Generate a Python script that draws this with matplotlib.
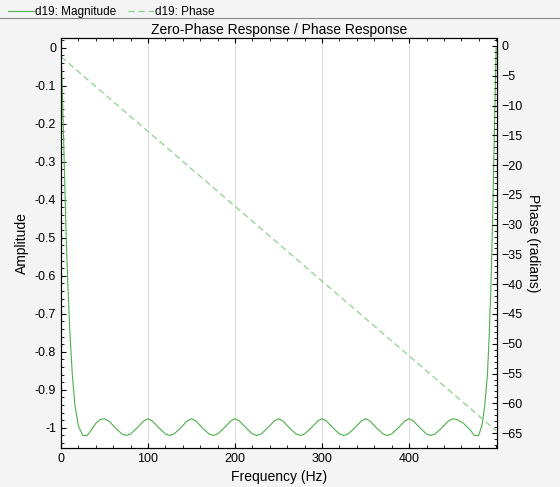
import matplotlib
matplotlib.use("Agg")
import matplotlib.pyplot as plt
from matplotlib.lines import Line2D

plt.rcParams['font.family'] = ['Liberation Sans', 'DejaVu Sans']

freq = [0, 2, 4, 6, 8, 10, 13, 16, 20, 25, 30, 35, 40, 45, 50, 55, 62.5, 70, 75, 80, 87.5,
        95, 100, 105, 112.5, 120, 125, 130, 137.5, 145, 150, 155, 162.5, 170, 175, 180, 187.5,
        195, 200, 205, 212.5, 220, 225, 230, 237.5, 245, 250, 255, 262.5, 270, 275, 280, 287.5,
        295, 300, 305, 312.5, 320, 325, 330, 337.5, 345, 350, 355, 362.5, 370, 375, 380, 387.5,
        395, 400, 405, 412.5, 420, 425, 430, 437.5, 445, 450, 455, 462.5, 470, 475, 480, 484,
        487, 490, 492, 494, 496, 498, 500]
amp = [0, -0.15, -0.33, -0.5, -0.63, -0.74, -0.86, -0.94, -0.995, -1.02, -1.02, -1.005, -0.988, -0.978, -0.976,
       -0.982, -1.0, -1.016, -1.02, -1.016, -1.0, -0.982, -0.976, -0.982, -1.0, -1.016, -1.02, -1.016, -1.0,
       -0.982, -0.976, -0.982, -1.0, -1.016, -1.02, -1.016, -1.0, -0.982, -0.976, -0.982, -1.0, -1.016, -1.02,
       -1.016, -1.0, -0.982, -0.976, -0.982, -1.0, -1.016, -1.02, -1.016, -1.0, -0.982, -0.976, -0.982, -1.0,
       -1.016, -1.02, -1.016, -1.0, -0.982, -0.976, -0.982, -1.0, -1.016, -1.02, -1.016, -1.0, -0.982, -0.976,
       -0.982, -1.0, -1.016, -1.02, -1.016, -1.0, -0.982, -0.976, -0.978, -0.988, -1.005, -1.02, -1.02, -0.99,
       -0.94, -0.86, -0.76, -0.63, -0.45, -0.22, 0]
phase_freq = [0, 500]
phase = [-1.8, -64.6]

bg = "#f4f4f4"
fig = plt.figure(figsize=(5.6, 4.87), dpi=100, facecolor=bg)
ax = fig.add_axes([61/560, 1-448/487, 436/560, 410/487])
ax.set_facecolor("white")
ax.plot(freq, amp, color="#4daf4a", lw=0.8)
ax.set_xlim(0, 501)
ax.set_ylim(-1.053, 0.026)
ax.set_xticks([0, 100, 200, 300, 400])
ax.set_yticks([0, -0.1, -0.2, -0.3, -0.4, -0.5, -0.6, -0.7, -0.8, -0.9, -1])
ax.set_yticklabels(["0", "-0.1", "-0.2", "-0.3", "-0.4", "-0.5", "-0.6", "-0.7", "-0.8", "-0.9", "-1"])
ax.grid(axis="x", color="#dddddd", lw=0.8)
ax.minorticks_on()
ax.tick_params(which="both", direction="in", top=True, labelsize=9)
ax.set_xlabel("Frequency (Hz)", fontsize=10)
ax.set_ylabel("Amplitude", fontsize=10)
ax.set_title("Zero-Phase Response / Phase Response", fontsize=10, pad=3)

ax2 = ax.twinx()
ax2.plot(phase_freq, phase, color="#8fd18f", lw=0.9, ls=(0, (5, 3)))
ax2.set_ylim(-67.5, 1.34)
ax2.set_yticks(list(range(0, -70, -5)))
ax2.minorticks_on()
ax2.tick_params(which="both", direction="in", labelsize=9)
ax2.set_ylabel("Phase (radians)", fontsize=10, rotation=270, labelpad=12)

fig.add_artist(Line2D([0, 1], [1-18/487]*2, color="#888888", lw=0.8))
handles = [Line2D([], [], color="#4daf4a", lw=0.8),
           Line2D([], [], color="#8fd18f", lw=0.9, ls=(0, (5, 3)))]
fig.legend(handles, ["d19: Magnitude", "d19: Phase"], loc="upper left", bbox_to_anchor=(-0.005, 1.01),
           ncol=2, frameon=False, fontsize=8.5, handlelength=2.2, columnspacing=1.0, handletextpad=0.1)
fig.savefig("out.png", dpi=100, facecolor=bg)
